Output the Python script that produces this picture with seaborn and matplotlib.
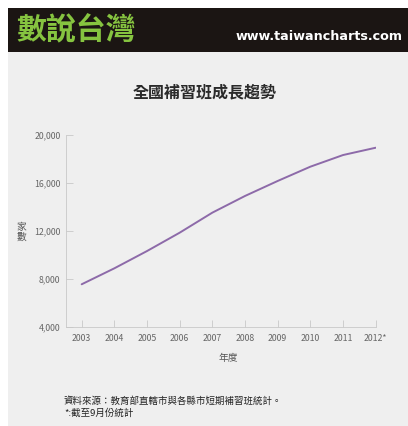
import numpy as np
import pandas as pd
import seaborn as sns
import matplotlib
matplotlib.use('Agg')
import matplotlib.pyplot as plt
from matplotlib.patches import Rectangle

# data
years = [2003, 2004, 2005, 2006, 2007, 2008, 2009, 2010, 2011, 2012]
year_labels = ['2003', '2004', '2005', '2006', '2007', '2008', '2009', '2010', '2011', '2012*']
counts = [7560, 8890, 10330, 11860, 13530, 14920, 16170, 17360, 18330, 18940]
y_ticks = [4000, 8000, 12000, 16000, 20000]

df = pd.DataFrame({'year': years, 'count': counts})

sns.set_style('ticks')
plt.rcParams['font.family'] = ['Noto Sans CJK TC', 'DejaVu Sans']

bg = '#efefef'
fig = plt.figure(figsize=(4.08, 4.26), dpi=100)
fig.patch.set_facecolor('white')

# grey panel and black header band
fig.add_artist(Rectangle((8/408, 0), 1, 1 - 52/426, transform=fig.transFigure,
                         facecolor=bg, edgecolor='none', zorder=0))
fig.add_artist(Rectangle((8/408, 1 - 52/426), 1, 44/426, transform=fig.transFigure,
                         facecolor='#1b1513', edgecolor='none', zorder=0))
fig.text(16/408, 1 - 30/426, '數說台灣', color='#86c440', fontsize=21.5,
         fontweight='bold', va='center', ha='left')
fig.text(403/408, 1 - 37/426, 'www.taiwancharts.com', color='white', fontsize=9.2,
         fontweight='bold', va='center', ha='right', family=['DejaVu Sans'])

ax = fig.add_axes([66/408, 1 - 327/426, (375.7 - 66)/408, (327 - 135)/426])
ax.set_facecolor(bg)

sns.lineplot(data=df, x='year', y='count', ax=ax, color='#8d6aa9', linewidth=1.4)

ax.set_xlim(2002.52, 2012)
ax.set_ylim(4000, 20000)
ax.set_xticks(years)
ax.set_xticklabels(year_labels)
ax.set_yticks(y_ticks)
ax.set_yticklabels(['{:,}'.format(v) for v in y_ticks])
ax.tick_params(direction='in', length=5, width=0.6, color='#c8c8c8',
               labelsize=6.3, labelcolor='#666666', pad=4)
ax.tick_params(axis='x', pad=5)
for s in ['top', 'right']:
    ax.spines[s].set_visible(False)
for s in ['left', 'bottom']:
    ax.spines[s].set_color('#c8c8c8')
    ax.spines[s].set_linewidth(0.6)
ax.set_xlabel('')
ax.set_ylabel('')

fig.text(205/408, 1 - 92/426, '全國補習班成長趨勢', fontsize=11.5, fontweight='bold',
         color='#2a2a2a', ha='center', va='center')
fig.text(228/408, 1 - 358/426, '年度', fontsize=7, color='#555555',
         ha='center', va='center')
fig.text(21/408, 1 - 232/426, '家\n數', fontsize=7, color='#555555',
         ha='center', va='center', linespacing=1.0)
fig.text(64/408, 1 - 401/426, '資料來源：教育部直轄市與各縣市短期補習班統計。', fontsize=6.8,
         color='#222222', ha='left', va='center')
fig.text(64/408, 1 - 413/426, '*:截至9月份統計', fontsize=6.8,
         color='#222222', ha='left', va='center')

fig.savefig('out.png', dpi=100, facecolor=fig.get_facecolor())
